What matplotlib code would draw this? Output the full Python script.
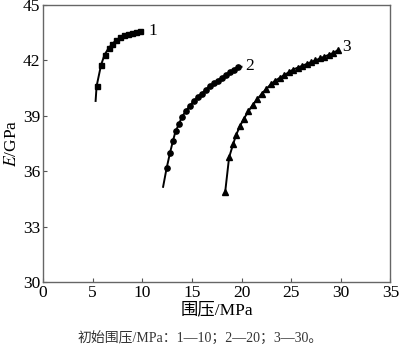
import matplotlib
matplotlib.use("Agg")
import matplotlib.pyplot as plt

plt.rcParams['font.family'] = ['Liberation Serif', 'Noto Sans CJK SC', 'DejaVu Sans']
plt.rcParams['mathtext.fontset'] = 'stix'

# Curve 1 (initial confining pressure 10 MPa)
x1 = [5.3, 5.4, 5.85, 6.2, 6.6, 7.0, 7.4, 7.8, 8.2, 8.6, 9.0, 9.4, 9.8, 10.0]
y1 = [39.8, 40.6, 41.75, 42.3, 42.65, 42.9, 43.1, 43.25, 43.35, 43.45, 43.5, 43.55, 43.6, 43.6]
# Curve 2 (initial confining pressure 20 MPa)
x2 = [12.1, 12.45, 12.8, 13.1, 13.35, 13.7, 14.0, 14.4, 14.8, 15.2, 15.6, 16.0, 16.4,
      16.8, 17.2, 17.6, 18.0, 18.4, 18.8, 19.2, 19.6, 20.0]
y2 = [35.15, 36.15, 37.0, 37.65, 38.15, 38.55, 38.95, 39.25, 39.55, 39.8, 40.0, 40.2, 40.4,
      40.6, 40.75, 40.9, 41.05, 41.2, 41.35, 41.5, 41.62, 41.65]
# Curve 3 (initial confining pressure 30 MPa)
x3 = [18.35, 18.75, 19.15, 19.45, 19.85, 20.25, 20.7, 21.15, 21.6, 22.05, 22.5, 22.95, 23.4,
      23.85, 24.3, 24.75, 25.2, 25.65, 26.1, 26.55, 27.0, 27.45, 27.9, 28.35, 28.8, 29.25, 29.7]
y3 = [34.85, 36.75, 37.45, 37.95, 38.45, 38.85, 39.25, 39.6, 39.9, 40.2, 40.45, 40.7, 40.9,
      41.05, 41.2, 41.35, 41.5, 41.6, 41.7, 41.8, 41.9, 42.0, 42.1, 42.2, 42.3, 42.4, 42.55]

labels = ['1', '2', '3']
label_pos = [(10.6, 43.6), (20.4, 41.7), (30.1, 42.7)]

xticks = [0, 5, 10, 15, 20, 25, 30, 35]
yticks = [30, 33, 36, 39, 42, 45]

fig = plt.figure(figsize=(4.0, 3.52), dpi=100)
ax = fig.add_axes([0.1075, 0.199, 0.8685, 0.787])

ax.plot(x1, y1, color='black', lw=1.4, marker='s', ms=3.6, markevery=list(range(1, len(x1) - 1)))
ax.plot(x2, y2, color='black', lw=1.4, marker='o', ms=3.8, markevery=list(range(1, len(x2) - 1)))
ax.plot(x3, y3, color='black', lw=1.4, marker='^', ms=3.8)

for t, (lx, ly) in zip(labels, label_pos):
    ax.text(lx, ly, t, fontsize=12.5, ha='left', va='center')

ax.set_xlim(0, 35)
ax.set_ylim(30, 45)
ax.set_xticks(xticks)
ax.set_yticks(yticks)
ax.tick_params(direction='in', labelsize=12.5, length=3, width=0.8, pad=2, colors='#555555', labelcolor='black')
for s in ax.spines.values():
    s.set_color('#666666')
    s.set_linewidth(1.0)

ax.set_xlabel('围压/MPa', fontsize=12.5, labelpad=1)
ax.set_ylabel('$E$/GPa', fontsize=12.5, labelpad=2)

fig.text(0.5, 0.04, '初始围压/MPa：1—10；2—20；3—30。', ha='center', va='center', fontsize=10, color='#333333')

fig.savefig('out.png', dpi=100)
